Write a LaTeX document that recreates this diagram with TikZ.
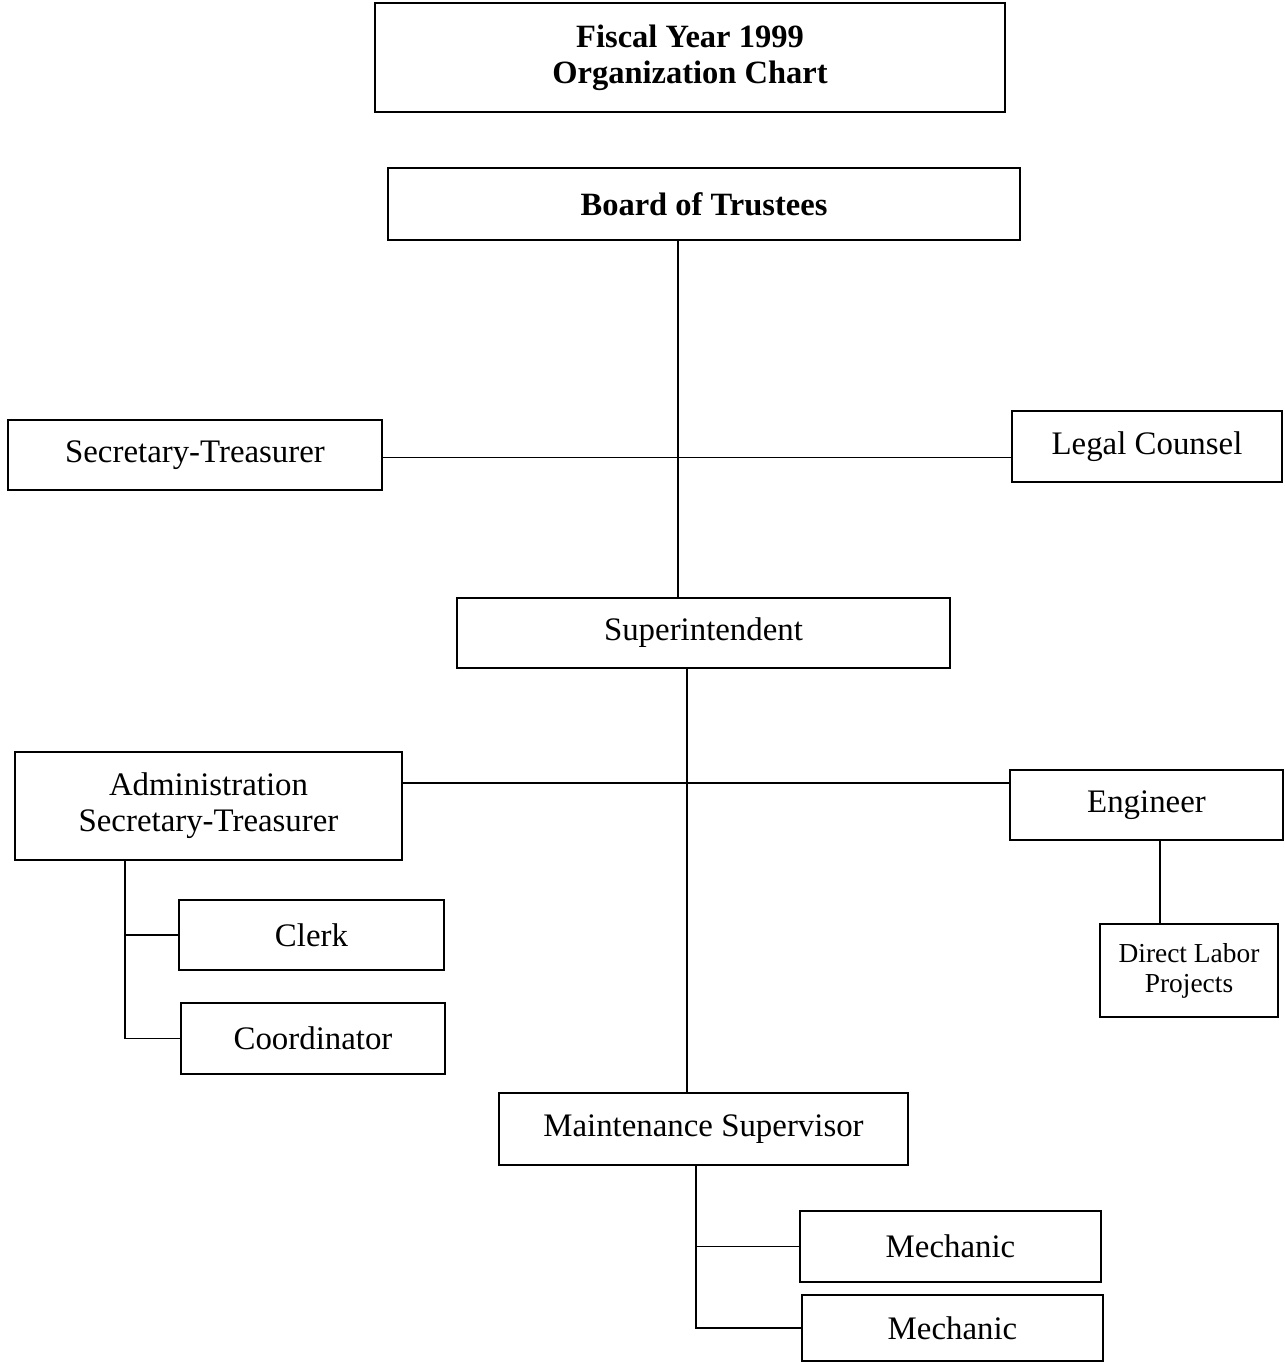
\documentclass[tikz,border=0pt]{standalone}
\usepackage{fontspec}
\setmainfont{Liberation Serif}
\begin{document}
\begin{tikzpicture}[
    box/.style={draw, line width=1pt, align=center, inner sep=0pt,
                font=\fontsize{18.7}{20.5}\selectfont},
    boldbox/.style={box, font=\fontsize{18.5}{20.5}\selectfont\bfseries},
    link/.style={line width=1pt}]
        \useasboundingbox (0,0) rectangle (25.7,-27.24);

        % Titolo
        \node[boldbox, minimum width=12.6cm, minimum height=2.18cm] (title) at (13.8,-1.15)
            {Fiscal Year 1999\\Organization Chart};

        % Vertice
        \node[boldbox, minimum width=12.64cm, minimum height=1.44cm] (bot) at (14.08,-4.08) {Board of Trustees};
        \node[box, minimum width=7.48cm, minimum height=1.4cm] (st) at (3.9,-9.1) {Secretary-Treasurer};
        \node[box, minimum width=5.4cm, minimum height=1.42cm] (lc) at (22.94,-8.93) {Legal Counsel};
        \node[box, minimum width=9.86cm, minimum height=1.4cm] (sup) at (14.07,-12.66) {Superintendent};

        % Secondo livello
        \node[box, minimum width=7.74cm, minimum height=2.16cm] (adm) at (4.17,-16.12)
            {Administration\\Secretary-Treasurer};
        \node[box, minimum width=5.46cm, minimum height=1.4cm] (eng) at (22.93,-16.1) {Engineer};
        \node[box, minimum width=3.56cm, minimum height=1.86cm,
              font=\fontsize{15.6}{17}\selectfont] (dlp) at (23.78,-19.41) {Direct Labor\\Projects};
        \node[box, minimum width=5.3cm, minimum height=1.4cm] (clerk) at (6.23,-18.7) {Clerk};
        \node[box, minimum width=5.28cm, minimum height=1.42cm] (coord) at (6.26,-20.77) {Coordinator};

        % Manutenzione
        \node[box, minimum width=8.18cm, minimum height=1.44cm] (ms) at (14.07,-22.58) {Maintenance Supervisor};
        \node[box, minimum width=6.02cm, minimum height=1.42cm] (mech1) at (19.01,-24.93) {Mechanic};
        \node[box, minimum width=6.02cm, minimum height=1.32cm] (mech2) at (19.05,-26.56) {Mechanic};

        % Collegamenti
        \draw[link] ([xshift=-0.52cm]bot.south) -- ([xshift=-0.52cm]bot.south |- sup.north);
        \draw[link] ([yshift=-0.05cm]st.east) -- ([yshift=-0.05cm]st.east -| lc.west);
        \draw[link] ([xshift=-0.33cm]sup.south) -- ([xshift=-0.33cm]sup.south |- ms.north);
        \draw[link] ([yshift=0.46cm]adm.east) -- ([yshift=0.46cm]adm.east -| eng.west);
        \draw[link] ([xshift=0.27cm]eng.south) -- ([xshift=0.27cm]eng.south |- dlp.north);

        \coordinate (admtrunk) at ([xshift=-1.67cm]adm.south);
        \draw[link] (admtrunk) |- (coord.west);
        \draw[link] (clerk.west) -- (clerk.west -| admtrunk);

        \coordinate (mstrunk) at ([xshift=-0.15cm]ms.south);
        \draw[link] (mstrunk) |- (mech2.west);
        \draw[link] (mech1.west) -- (mech1.west -| mstrunk);
    \end{tikzpicture}
\end{document}
